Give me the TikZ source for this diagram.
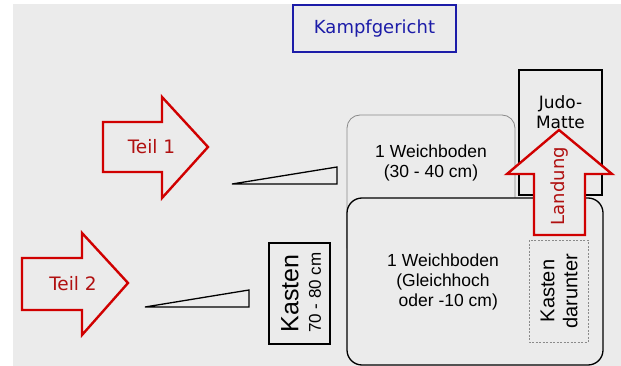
\documentclass[tikz,border=0pt]{standalone}
\usepackage{fontspec}
\setmainfont{Liberation Sans}
\newfontfamily\verd{DejaVu Sans}
\definecolor{bg}{HTML}{EBEBEB}
\definecolor{arrred}{HTML}{D00000}
\definecolor{txtred}{HTML}{B01010}
\definecolor{kblue}{HTML}{1C1CA8}
\definecolor{softgray}{HTML}{8A8A8A}
\tikzset{
  bigarrow/.style={draw=arrred, line width=2.4pt, fill=bg, line join=miter},
  redtext/.style={text=txtred, font=\verd\fontsize{18.5}{22}\selectfont, inner sep=0pt},
  wedge/.style={draw=black, line width=1.3pt, fill=bg, line join=miter},
  blacktext/.style={text=black, font=\fontsize{17.5}{20}\selectfont, align=center, inner sep=0pt},
}
\begin{document}
\begin{tikzpicture}[x=1pt,y=-1pt]
\useasboundingbox (0,0) rectangle (621,366);
\fill[white] (0,0) rectangle (621,366);
\fill[bg] (13,4) rectangle (621,366);

% Kampfgericht
\draw[kblue, line width=1.4pt] (293,5) rectangle (456,52);
\node[text=kblue, font=\verd\fontsize{18}{20}\selectfont, inner sep=0pt] (kampf) at (374.5,29) {Kampfgericht};

% Judo-Matte
\draw[black, line width=1.3pt, fill=bg] (519,70) rectangle (602,195);
\node[blacktext, font=\verd\fontsize{17}{20}\selectfont] (judo) at (560.5,112) {Judo-\\Matte};

% upper Weichboden
\draw[softgray, line width=0.8pt, fill=bg, rounded corners=13pt] (347,115) rectangle (515,260);
\node[blacktext] (wb1) at (431,163) {1 Weichboden\\(30 - 40 cm)};

% lower Weichboden
\draw[black, line width=1.3pt, fill=bg, rounded corners=15pt] (347,198) rectangle (603,365);
\node[blacktext] (wb2) at (443,282) {1 Weichboden\\(Gleichhoch\\\hspace*{0.6em}oder -10 cm)};

% Kasten darunter
\draw[softgray, line width=0.7pt, dashed, dash pattern=on 2pt off 1.5pt] (529,240) rectangle (588,342);
\node[blacktext, font=\fontsize{20}{23}\selectfont, rotate=90] (kd) at (559,291) {Kasten\\darunter};

% Landung arrow
\draw[bigarrow] (534,235) -- (534,174) -- (507,174) -- (559,130) -- (612,174) -- (585,174) -- (585,235) -- cycle;
\node[redtext, font=\verd\fontsize{18}{22}\selectfont, rotate=90] (land) at (560,186) {Landung};

% Teil 1 arrow
\draw[bigarrow] (103,122) -- (162,122) -- (162,97) -- (208,147) -- (162,198) -- (162,172) -- (103,172) -- cycle;
\node[redtext] (teil1) at (151.5,147) {Teil 1};

% Teil 2 arrow
\draw[bigarrow] (22,258) -- (82,258) -- (82,233) -- (128,283) -- (82,335) -- (82,310) -- (22,310) -- cycle;
\node[redtext] (teil2) at (73,284) {Teil 2};

% wedges
\draw[wedge] (232,184) -- (337,167) -- (337,184) -- cycle;
\draw[wedge] (145,307) -- (249,290) -- (249,307) -- cycle;

% Kasten 70-80
\draw[black, line width=2.6pt, fill=bg] (269,243) rectangle (330,344);
\node[rotate=90, inner sep=0pt, font=\fontsize{25}{25}\selectfont] (kasten) at (290,293.5) {Kasten};
\node[rotate=90, inner sep=0pt, font=\fontsize{17}{17}\selectfont] (kastencm) at (315,292.5) {70 - 80 cm};
\end{tikzpicture}
\end{document}
